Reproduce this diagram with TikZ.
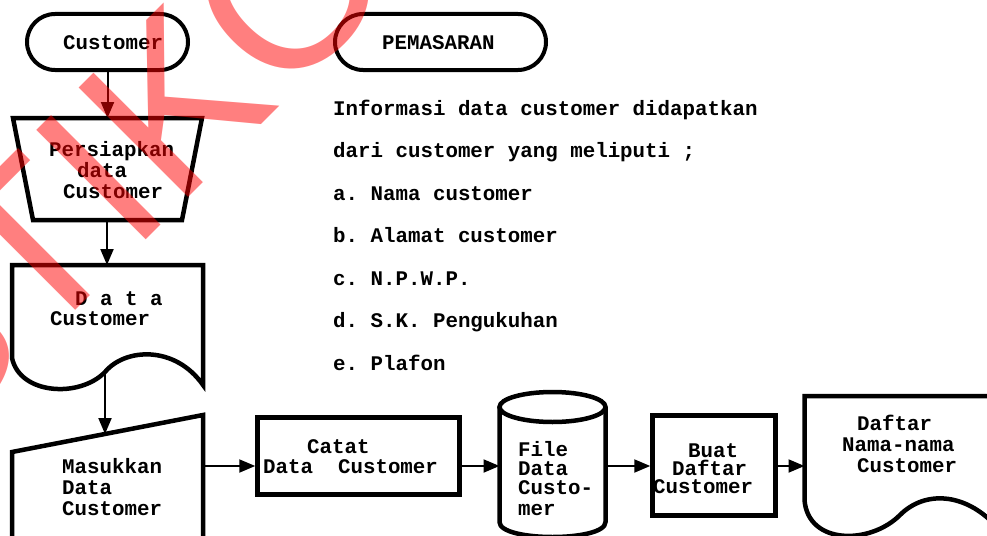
\documentclass[tikz,border=0pt]{standalone}
\usepackage{fontspec}
\setmonofont{Liberation Mono}
\newfontfamily\wmfont{Liberation Sans}
\usetikzlibrary{arrows.meta}
\newcommand\dmfont{\fontsize{20.8}{20.8}\selectfont\ttfamily\bfseries\frenchspacing}
\begin{document}
\begin{tikzpicture}[x=1pt,y=-1pt,
  lbl/.style={font=\dmfont, inner sep=0pt, anchor=base west},
  box/.style={draw, line width=4.5pt, line join=miter},
  termbox/.style={draw, line width=4pt, rounded corners=28pt, minimum width=#1, minimum height=56pt, inner sep=0pt},
  procbox/.style={draw, line width=4.5pt, inner sep=0pt},
  flow/.style={line width=2pt, -{Triangle[length=16pt,width=13pt]}},
]
\useasboundingbox (0,0) rectangle (987,535);
\clip (0,0) rectangle (987,535);

% terminators
\node[termbox=161pt] (cust) at (107.5,42) {};
\node[lbl] (custT) at (63,50) {Customer};
\node[termbox=211pt] (pem) at (440.5,42) {};
\node[lbl] (pemT) at (382,50) {PEMASARAN};

% description text
\node[lbl] (i1) at (333,115) {Informasi data customer didapatkan};
\node[lbl] (i2) at (333,157.5) {dari customer yang meliputi ;};
\node[lbl] (i3) at (333,200) {a. Nama customer};
\node[lbl] (i4) at (333,242.5) {b. Alamat customer};
\node[lbl] (i5) at (333,285) {c. N.P.W.P.};
\node[lbl] (i6) at (333,327.5) {d. S.K. Pengukuhan};
\node[lbl] (i7) at (333,370) {e. Plafon};

% manual operation (trapezoid)
\draw[box] (13,118) -- (202,118) -- (182,220) -- (33,220) -- cycle;
\coordinate (prep-n) at (107,118);
\coordinate (prep-s) at (107,220);
\node[lbl] (prepA) at (49,156) {Persiapkan};
\node[lbl] (prepB) at (77,177) {data};
\node[lbl] (prepC) at (63,198) {Customer};

% document 1
\draw[box] (105,372) .. controls (80,398) and (20,395) .. (12,358) -- (12,265) -- (203,265) -- (203,385) .. controls (175,345) and (125,348) .. cycle;
\coordinate (doc1-n) at (107,265);
\coordinate (doc1-s) at (105,372);
\node[lbl] (docA) at (75,305) {D a t a};
\node[lbl] (docB) at (50,325) {Customer};

% manual input
\draw[box] (12,545) -- (12,452) -- (203,415) -- (203,545);
\coordinate (man-n) at (105,434);
\coordinate (man-e) at (203,466);
\node[lbl] (manA) at (62,473) {Masukkan};
\node[lbl] (manB) at (62,494) {Data};
\node[lbl] (manC) at (62,515) {Customer};

% process Catat
\node[procbox, minimum width=202pt, minimum height=77pt] (catat) at (358.5,456) {};
\node[lbl] (catA) at (307,453) {Catat};
\node[lbl] (catB) at (263,473) {Data~~Customer};

% cylinder
\draw[box] (552.5,407) ellipse [x radius=53pt, y radius=15pt];
\draw[box] (499.5,407) -- (499.5,522) .. controls (499.5,542) and (605.5,542) .. (605.5,522) -- (605.5,407);
\coordinate (cyl-w) at (499.5,466);
\coordinate (cyl-e) at (605.5,466);
\node[lbl] (cylA) at (518,456) {File};
\node[lbl] (cylB) at (518,475) {Data};
\node[lbl] (cylC) at (518,494) {Custo-};
\node[lbl] (cylD) at (518,515) {mer};

% process Buat
\node[procbox, minimum width=123pt, minimum height=100pt] (buat) at (714,465.5) {};
\node[lbl] (buatA) at (688,457) {Buat};
\node[lbl] (buatB) at (672,475) {Daftar};
\node[lbl] (buatC) at (653,493) {Customer};

% document 2
\draw[box] (995,396) -- (804.5,396) -- (804.5,500) .. controls (808,545) and (870,545) .. (900,515) .. controls (925,490) and (965,493) .. (995,525);
\coordinate (doc2-w) at (804.5,466);
\node[lbl] (d2A) at (857,430) {Daftar};
\node[lbl] (d2B) at (842,451) {Nama-nama};
\node[lbl] (d2C) at (857,472) {Customer};

% connectors
\draw[flow] (cust.south) -- (cust.south |- prep-n);
\draw[flow] (prep-s) -- (doc1-n);
\draw[flow] (doc1-s) -- (man-n);
\draw[flow] (man-e) -- (man-e -| catat.west);
\draw[flow] (man-e -| catat.east) -- (cyl-w);
\draw[flow] (cyl-e) -- (cyl-e -| buat.west);
\draw[flow] (cyl-e -| buat.east) -- (doc2-w);

% watermark
\node[font=\wmfont\fontsize{225}{225}\selectfont, text=red, text opacity=0.5, rotate=45, anchor=base west, inner sep=0pt] (wm) at (-72,458) {STIKOM};
\end{tikzpicture}
\end{document}
